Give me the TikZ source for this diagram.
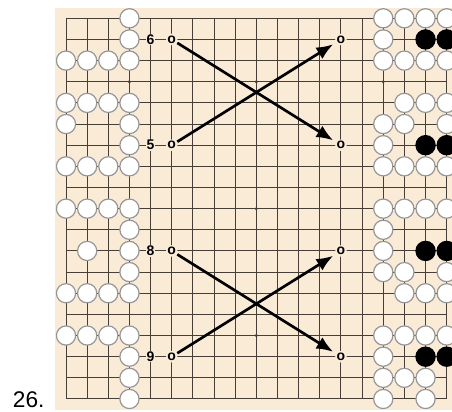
\documentclass[tikz,border=0pt]{standalone}
\usepackage{fontspec}
\setsansfont{Liberation Sans}
\usetikzlibrary{arrows.meta}
\definecolor{boardbg}{RGB}{250,235,215}
\definecolor{gridline}{RGB}{70,62,55}
\definecolor{stoneedge}{RGB}{150,150,150}
\begin{document}
\begin{tikzpicture}[x=15.86pt, y=-15.86pt,
    wstone/.style={circle, draw=stoneedge, fill=white, line width=0.9pt, minimum size=14.4pt, inner sep=0pt},
    bstone/.style={circle, draw=black, fill=black, line width=0.9pt, minimum size=14.4pt, inner sep=0pt},
    movenum/.style={fill=boardbg, inner sep=0.6pt, font=\sffamily\bfseries\fontsize{10.5}{12}\selectfont},
    spot/.style={circle, fill=boardbg, inner sep=0pt, outer sep=0.6pt, font=\sffamily\bfseries\fontsize{10.5}{12}\selectfont},
    jump/.style={-{Latex[length=12.5pt, width=10pt]}, line width=2pt, shorten >=2pt}]
    \useasboundingbox (-3.121,-0.865) rectangle (18.251,18.615);
    \clip (-3.121,-0.865) rectangle (18.251,18.615);
    \fill[boardbg] (-0.5,-0.5) rectangle (18.5,18.5);
    \foreach \i in {0,...,18} {
        \draw[gridline, line width=0.75pt] (\i,0) -- (\i,18);
        \draw[gridline, line width=0.75pt] (0,\i) -- (18,\i);
    }
    \foreach \c in {3,9,15}
        \foreach \r in {3,9,15}
            \fill[gridline] (\c,\r) circle (1.3pt);
    \foreach \c/\r in {3/0, 3/1, 0/2, 1/2, 2/2, 3/2, 0/4, 1/4, 2/4, 3/4, 0/5, 3/5, 3/6,
        0/7, 1/7, 2/7, 3/7, 0/9, 1/9, 2/9, 3/9, 3/10, 1/11, 3/11, 3/12,
        0/13, 1/13, 2/13, 3/13, 0/15, 1/15, 2/15, 3/15, 3/16, 3/17, 3/18}
        \node[wstone] (w\c-\r) at (\c,\r) {};
    \foreach \c/\r in {15/0, 16/0, 17/0, 18/0, 15/1, 15/2, 16/2, 17/2, 18/2,
        16/4, 17/4, 18/4, 15/5, 16/5, 18/5, 15/6, 15/7, 16/7, 17/7, 18/7,
        15/9, 16/9, 17/9, 18/9, 15/10, 15/11, 15/12, 16/12, 18/12, 16/13, 17/13, 18/13,
        15/15, 16/15, 17/15, 18/15, 15/16, 15/17, 16/17, 17/17, 15/18, 17/18}
        \node[wstone] (w\c-\r) at (\c,\r) {};
    \foreach \c/\r in {17/1, 18/1, 17/6, 18/6, 17/11, 18/11, 17/16, 18/16}
        \node[bstone] (b\c-\r) at (\c,\r) {};
    \node[movenum] (n6) at (4,1) {6};
    \node[movenum] (n5) at (4,6) {5};
    \node[movenum] (n8) at (4,11) {8};
    \node[movenum] (n9) at (4,16) {9};
    \node[spot] (from6) at (5,1) {o};
    \node[spot] (from5) at (5,6) {o};
    \node[spot] (from8) at (5,11) {o};
    \node[spot] (from9) at (5,16) {o};
    \node[spot] (to6) at (13,6) {o};
    \node[spot] (to5) at (13,1) {o};
    \node[spot] (to8) at (13,16) {o};
    \node[spot] (to9) at (13,11) {o};
    \draw[jump] (from6) -- (to6);
    \draw[jump] (from5) -- (to5);
    \draw[jump] (from8) -- (to8);
    \draw[jump] (from9) -- (to9);
    \node[anchor=base west, font=\sffamily\fontsize{17}{20}\selectfont] (problem) at (-2.73,18.4) {26.};
\end{tikzpicture}
\end{document}
